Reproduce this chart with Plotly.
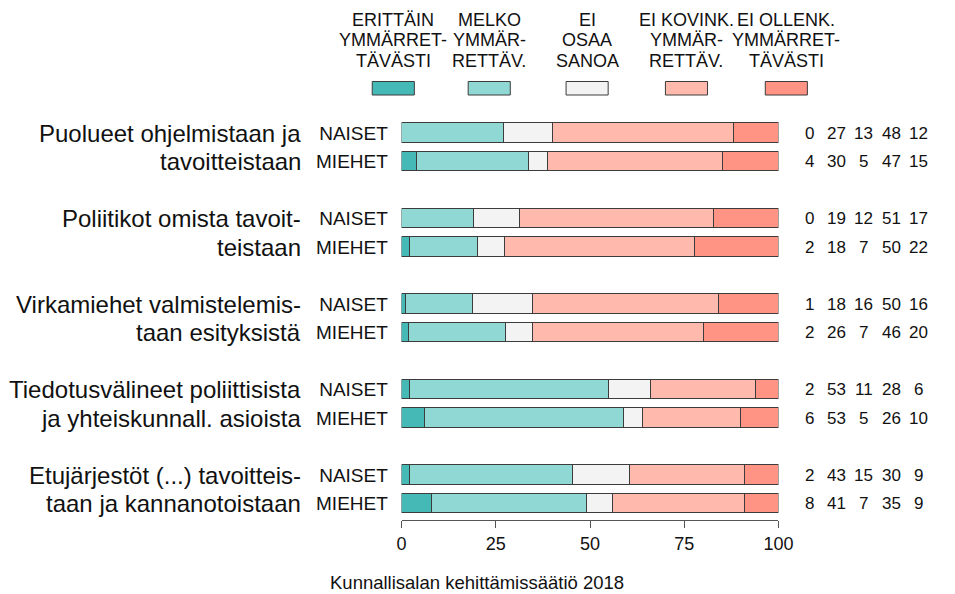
import plotly.graph_objects as go

# ---- data ----
groups_line1 = ["Puolueet ohjelmistaan ja", "Poliitikot omista tavoit-", "Virkamiehet valmistelemis-",
                "Tiedotusvälineet poliittisista", "Etujärjestöt (...) tavoitteis-"]
groups_line2 = ["tavoitteistaan", "teistaan", "taan esityksistä",
                "ja yhteiskunnall. asioista", "taan ja kannanotoistaan"]
genders = ["NAISET", "MIEHET"]
categories = ["ERITTÄIN<br>YMMÄRRET-<br>TÄVÄSTI", "MELKO<br>YMMÄR-<br>RETTÄV.", "EI<br>OSAA<br>SANOA",
              "EI KOVINK.<br>YMMÄR-<br>RETTÄV.", "EI OLLENK.<br>YMMÄRRET-<br>TÄVÄSTI"]
# rows: group1 N, group1 M, group2 N, ...
erittain = [0, 4, 0, 2, 1, 2, 2, 6, 2, 8]
melko = [27, 30, 19, 18, 18, 26, 53, 53, 43, 41]
eos = [13, 5, 12, 7, 16, 7, 11, 5, 15, 7]
ei_kovin = [48, 47, 51, 50, 50, 46, 28, 26, 30, 35]
ei_ollenk = [12, 15, 17, 22, 16, 20, 6, 10, 9, 9]
x_ticks = [0, 25, 50, 75, 100]
caption = "Kunnallisalan kehittämissäätiö 2018"

series = [erittain, melko, eos, ei_kovin, ei_ollenk]
colors = ["#45B9B5", "#8FD8D3", "#F3F3F3", "#FFB9AD", "#FF9384"]
border = "#3C3C3C"

# page body has an 8px margin: figure is drawn 8px in from the top-left
OFF = 8
W, H = 955 - OFF, 594 - OFF
PX0, PX1 = 405, 790      # plot area x pixels (window coords)
PY0, PY1 = 110, 520      # plot area y pixels (top, bottom)

def px(x):
    return (x - OFF) / W

def py(y):
    return 1 - (y - OFF) / H

FONT = "Liberation Sans, Arial, sans-serif"

n_rows = len(erittain)
ypos = [3 * (i // 2) + (i % 2) for i in range(n_rows)]
totals = [sum(s[i] for s in series) for i in range(n_rows)]

fig = go.Figure()
for k, s in enumerate(series):
    vals = [s[i] / totals[i] * 100 for i in range(n_rows)]
    fig.add_trace(go.Bar(
        x=vals, y=ypos, orientation="h", width=0.7,
        marker=dict(color=colors[k],
                    line=dict(color=border, width=[1 if v > 0 else 0 for v in s])),
        showlegend=False, hoverinfo="skip"))

unit = 28.5
y_top = 0 - (133 - PY0) / unit
y_bot = y_top + (PY1 - PY0) / unit

annotations = []
# group labels
for g in range(len(groups_line1)):
    for j, txt in enumerate([groups_line1[g], groups_line2[g]]):
        annotations.append(dict(x=px(304), y=3 * g + j, xref="paper", yref="y",
                                text=txt, showarrow=False, xanchor="right", yanchor="middle",
                                font=dict(family=FONT, size=24, color="#111")))
# numbers on right
num_cols = [822, 849, 877, 905, 933]
for i in range(n_rows):
    for k, s in enumerate(series):
        annotations.append(dict(x=px(num_cols[k]), y=ypos[i], xref="paper", yref="y",
                                text=str(s[i]), showarrow=False, xanchor="center", yanchor="middle",
                                font=dict(family=FONT, size=17, color="#111")))
# legend
leg_cx = [396.5, 494.5, 594.5, 696, 798]
line_y = [20, 40.5, 61]
shapes = []
for k, cat in enumerate(categories):
    for j, line in enumerate(cat.split("<br>")):
        annotations.append(dict(x=px(leg_cx[k]), y=py(line_y[j]), xref="paper", yref="paper",
                                text=line, showarrow=False, xanchor="center", yanchor="middle",
                                font=dict(family=FONT, size=18, color="#111")))
    shapes.append(dict(type="rect", xref="paper", yref="paper",
                       x0=px(leg_cx[k] - 21.5), x1=px(leg_cx[k] + 21.5),
                       y0=py(95), y1=py(81.5), fillcolor=colors[k],
                       line=dict(color=border, width=1)))
# caption
annotations.append(dict(x=px(482), y=py(582), xref="paper", yref="paper", text=caption,
                        showarrow=False, xanchor="center", yanchor="middle",
                        font=dict(family=FONT, size=18.5, color="#111")))

fig.update_layout(
    width=W, height=H, margin=dict(l=0, r=0, t=0, b=0),
    paper_bgcolor="white", plot_bgcolor="white",
    barmode="stack", bargap=0,
    annotations=annotations, shapes=shapes,
    xaxis=dict(domain=[px(PX0), px(PX1)], range=[0, 100], tickvals=x_ticks,
               ticktext=[str(t) for t in x_ticks], showgrid=False, zeroline=False,
               showline=True, linecolor="#555", linewidth=1, ticks="outside",
               ticklen=7, tickcolor="#555", tickfont=dict(family=FONT, size=18, color="#111")),
    yaxis=dict(domain=[py(PY1), py(PY0)], range=[y_bot, y_top], tickvals=ypos,
               ticktext=[genders[i % 2] for i in range(n_rows)], showgrid=False,
               zeroline=False, showline=False, ticks="outside", ticklen=9,
               tickcolor="rgba(0,0,0,0)", tickfont=dict(family=FONT, size=19, color="#111")),
    font=dict(family=FONT),
)

fig.write_html("out.html")
